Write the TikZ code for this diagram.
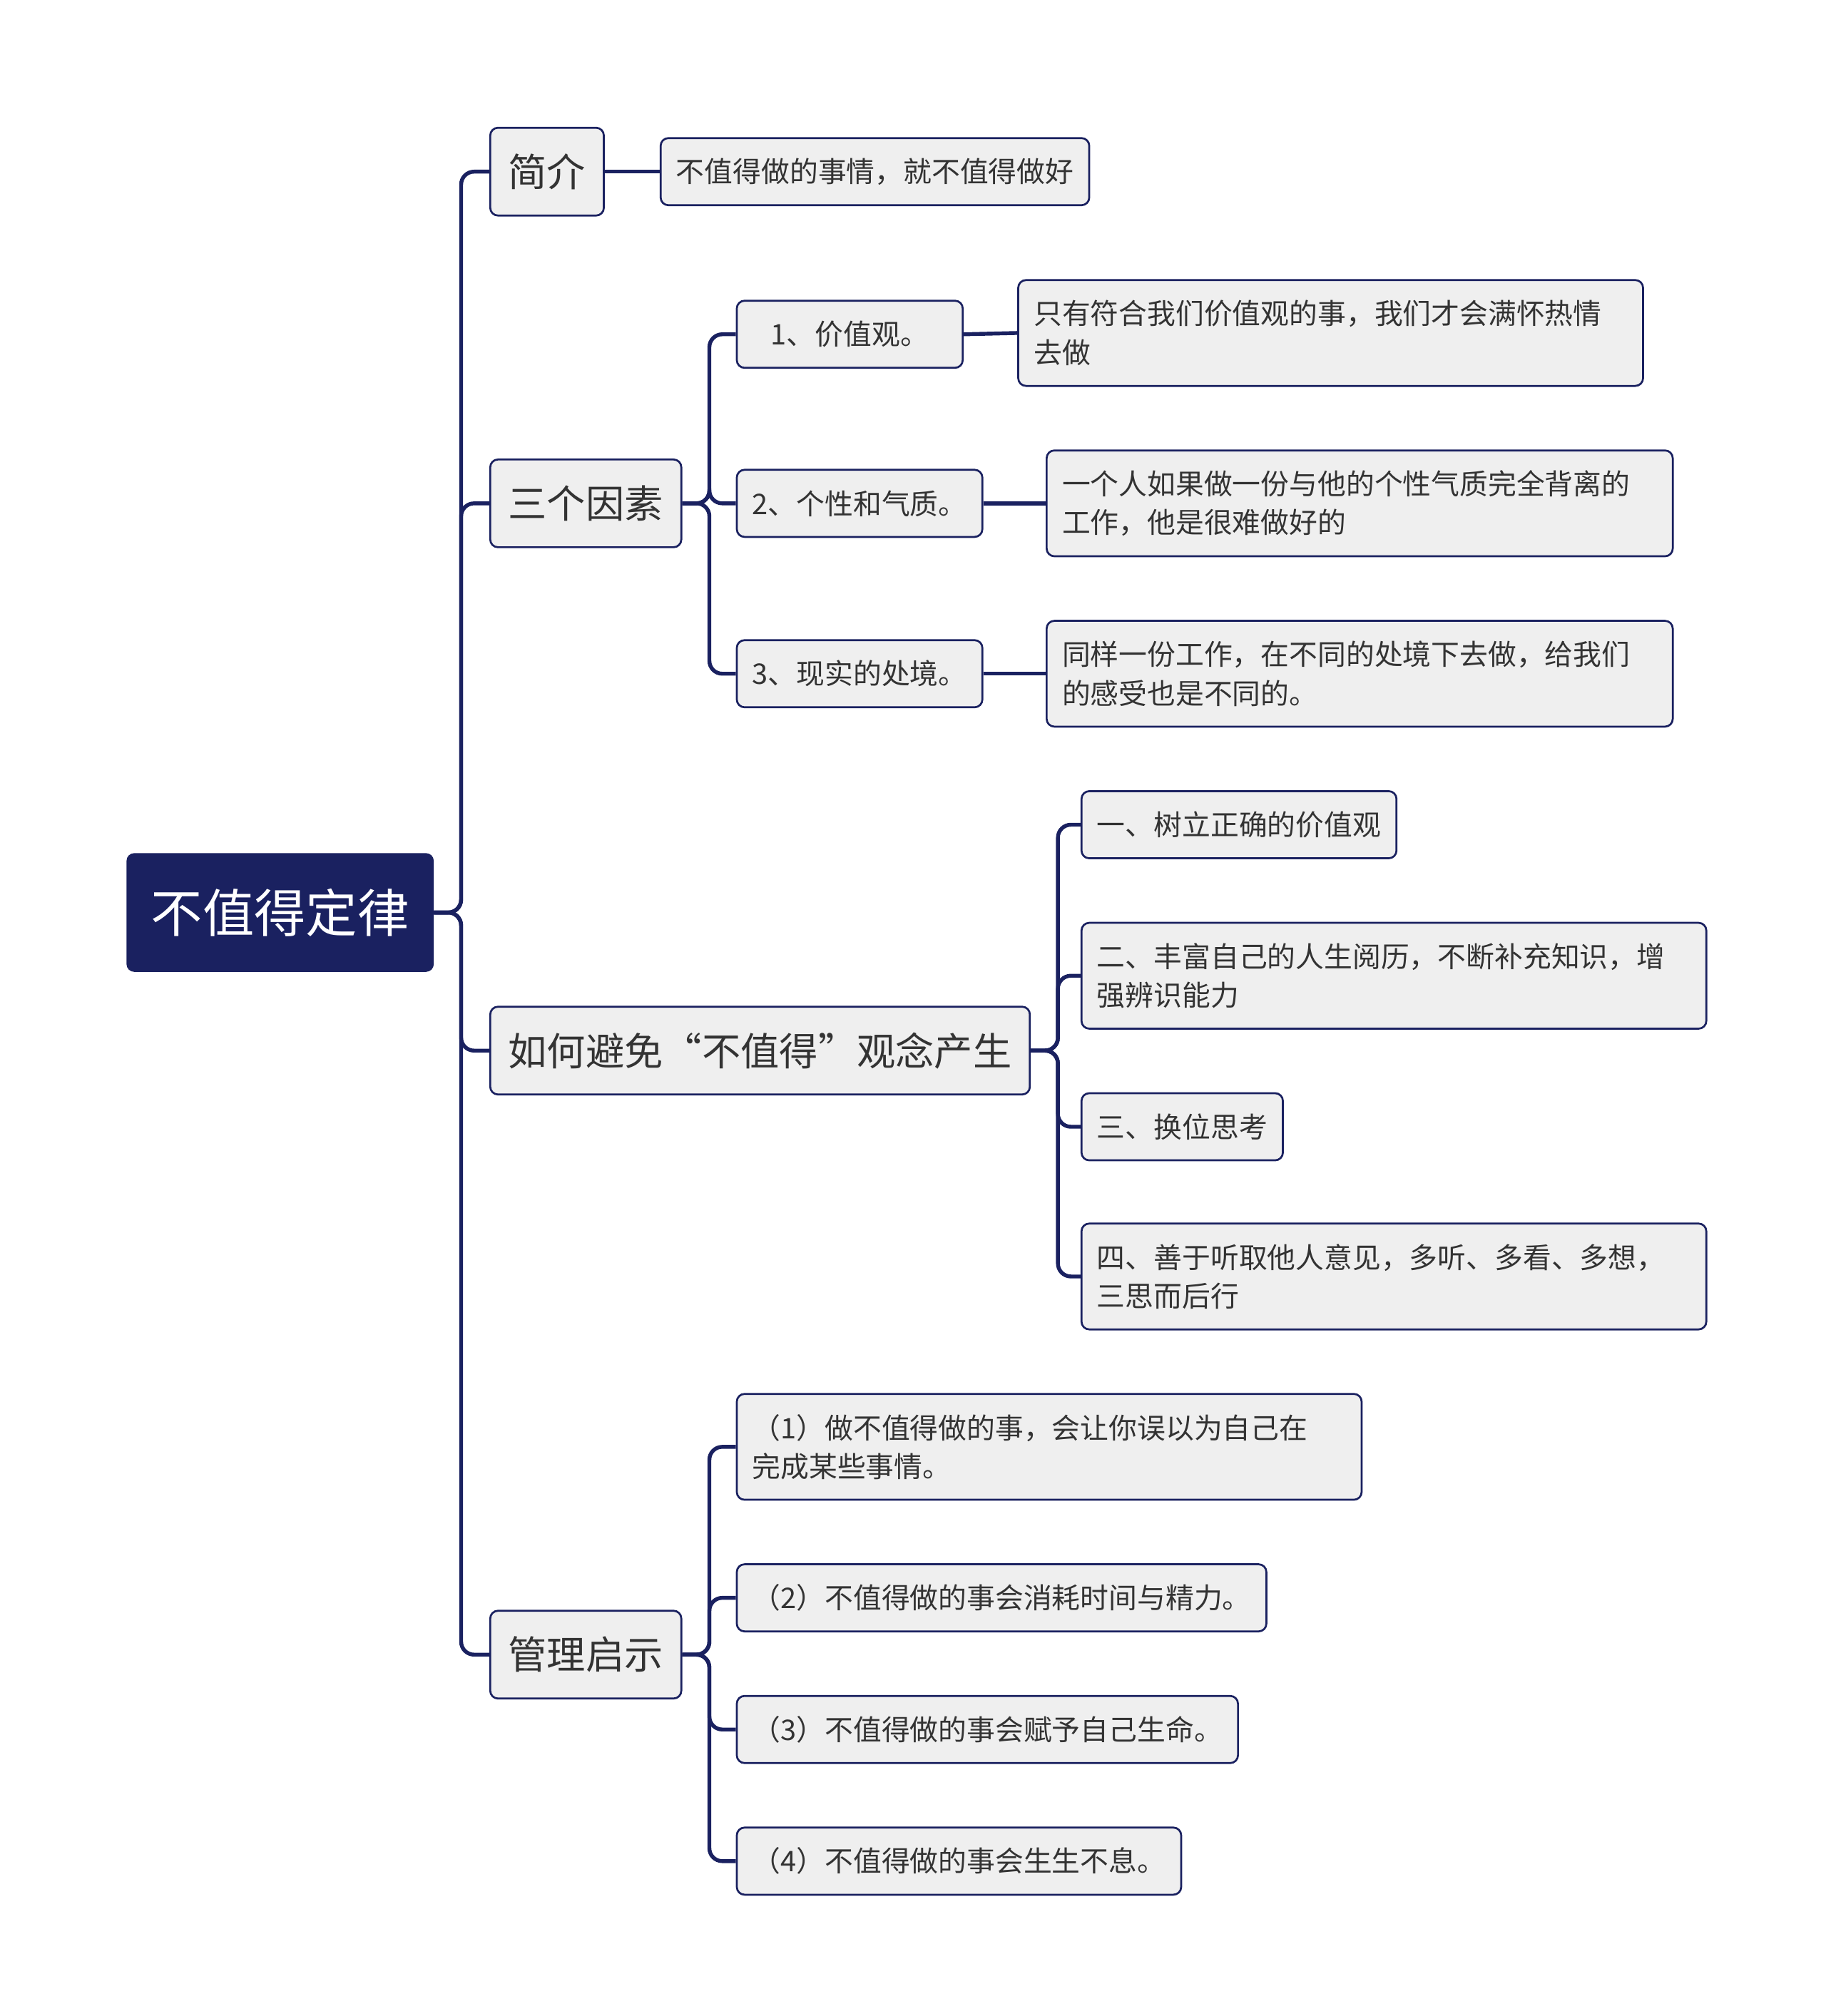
\documentclass[tikz,border=0pt]{standalone}
\usepackage{fontspec}
\setmainfont{Noto Sans CJK SC}
\definecolor{navy}{HTML}{1A2160}
\definecolor{boxfill}{HTML}{EFEFEF}
\definecolor{ink}{HTML}{333333}
\begin{document}
\begin{tikzpicture}[x=1pt, y=-1pt,
  root/.style={fill=navy, rounded corners=6pt, text=white, minimum width=238pt, minimum height=92pt, font=\fontsize{40}{44}\selectfont},
  topic/.style={draw=navy, line width=1.5pt, fill=boxfill, rounded corners=6pt, text=ink, anchor=west, minimum height=68pt, inner xsep=14pt, font=\fontsize{30}{34}\selectfont},
  leaf/.style={draw=navy, line width=1.5pt, fill=boxfill, rounded corners=6pt, text=ink, anchor=west, minimum height=52pt, inner xsep=12pt, inner ysep=10pt, align=left, font=\fontsize{22}{30}\selectfont},
  wide/.style={leaf, text width=#1, minimum height=82pt},
  link/.style={draw=navy, line width=3pt, rounded corners=10pt}]

  \useasboundingbox (0,0) rectangle (1414,1562);

  % Root
  \node[root] (R) at (217,707) {不值得定律};

  % Main branches
  \node[topic] (T1) at (379,133) {简介};
  \node[topic] (T2) at (379,390) {三个因素};
  \node[topic] (T3) at (379,814) {如何避免“不值得”观念产生};
  \node[topic] (T4) at (379,1282) {管理启示};

  % Sub branches
  \node[leaf] (A1) at (511,133) {不值得做的事情，就不值得做好};

  \node[leaf, minimum width=175pt, align=center] (B1) at (570,259) {1、价值观。};
  \node[leaf] (B2) at (570,390) {2、个性和气质。};
  \node[leaf] (B3) at (570,522) {3、现实的处境。};
  \node[wide=460pt] (C1) at (788,258) {只有符合我们价值观的事，我们才会满怀热情\\去做};
  \node[wide=461pt] (C2) at (810,390) {一个人如果做一份与他的个性气质完全背离的\\工作，他是很难做好的};
  \node[wide=461pt] (C3) at (810,522) {同样一份工作，在不同的处境下去做，给我们\\的感受也是不同的。};

  \node[leaf] (D1) at (837,639) {一、树立正确的价值观};
  \node[wide=460pt] (D2) at (837,756) {二、丰富自己的人生阅历，不断补充知识，增\\强辨识能力};
  \node[leaf] (D3) at (837,873) {三、换位思考};
  \node[wide=460pt] (D4) at (837,989) {四、善于听取他人意见，多听、多看、多想，\\三思而后行};

  \node[wide=460pt] (E1) at (570,1121) {（1）做不值得做的事，会让你误以为自己在\\完成某些事情。};
  \node[leaf] (E2) at (570,1238) {（2）不值得做的事会消耗时间与精力。};
  \node[leaf] (E3) at (570,1340) {（3）不值得做的事会赋予自己生命。};
  \node[leaf] (E4) at (570,1442) {（4）不值得做的事会生生不息。};

  % Connectors
  \foreach \t in {T1,T2,T3,T4}
    \draw[link] (R.east) -- ++(21,0) |- (\t.west);
  \draw[link] (T1.east) -- (A1.west);
  \foreach \b/\c in {B1/C1,B2/C2,B3/C3} {
    \draw[link] (T2.east) -- ++(21,0) |- (\b.west);
    \draw[link] (\b.east) -- (\c.west);
  }
  \foreach \d in {D1,D2,D3,D4}
    \draw[link] (T3.east) -- ++(21,0) |- (\d.west);
  \foreach \e in {E1,E2,E3,E4}
    \draw[link] (T4.east) -- ++(21,0) |- (\e.west);

\end{tikzpicture}
\end{document}
